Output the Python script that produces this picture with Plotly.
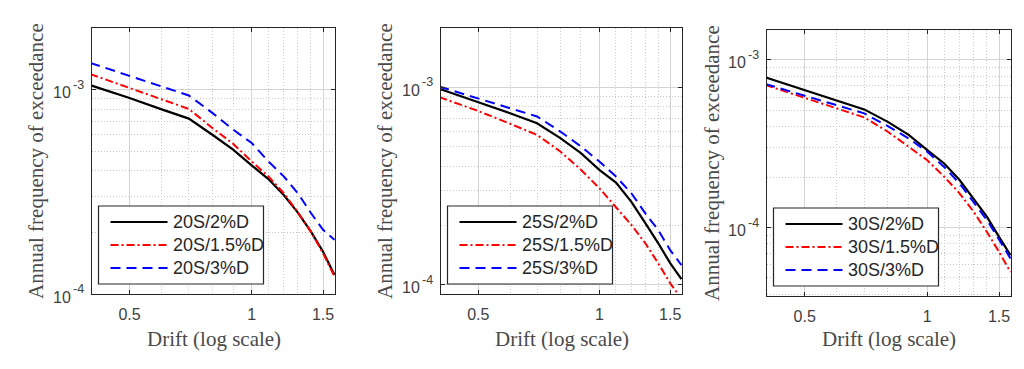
import math
import plotly.graph_objects as go

# ---------------- data ----------------
DRIFT = [0.4, 0.5, 0.6, 0.7, 0.8, 0.9, 1.0, 1.1, 1.2, 1.3, 1.4, 1.5, 1.6]

S20_2D = [1.05e-3, 9.1e-4, 8.0e-4, 7.21e-4, 6.01e-4, 5.08e-4, 4.26e-4, 3.65e-4, 3.05e-4, 2.50e-4, 2.02e-4, 1.61e-4, 1.24e-4]
S20_15D = [1.19e-3, 1.02e-3, 8.95e-4, 8.04e-4, 6.49e-4, 5.43e-4, 4.45e-4, 3.76e-4, 3.11e-4, 2.51e-4, 2.02e-4, 1.58e-4, 1.22e-4]
S20_3D = [1.35e-3, 1.17e-3, 1.035e-3, 9.35e-4, 7.69e-4, 6.37e-4, 5.48e-4, 4.45e-4, 3.76e-4, 3.11e-4, 2.49e-4, 2.06e-4, 1.84e-4]

S25_2D = [9.85e-4, 8.45e-4, 7.4e-4, 6.59e-4, 5.54e-4, 4.65e-4, 3.83e-4, 3.30e-4, 2.64e-4, 2.06e-4, 1.63e-4, 1.29e-4, 1.07e-4]
S25_15D = [8.94e-4, 7.6e-4, 6.55e-4, 5.75e-4, 4.74e-4, 3.83e-4, 3.09e-4, 2.49e-4, 2.02e-4, 1.63e-4, 1.29e-4, 1.02e-4, 8.5e-5]
S25_3D = [1.01e-3, 8.8e-4, 7.85e-4, 7.13e-4, 5.98e-4, 5.03e-4, 4.22e-4, 3.54e-4, 2.92e-4, 2.31e-4, 1.90e-4, 1.50e-4, 1.26e-4]

S30_2D = [7.88e-4, 6.6e-4, 5.73e-4, 5.07e-4, 4.27e-4, 3.57e-4, 2.90e-4, 2.41e-4, 1.92e-4, 1.49e-4, 1.16e-4, 8.79e-5, 6.83e-5]
S30_15D = [7.10e-4, 5.94e-4, 5.14e-4, 4.54e-4, 3.73e-4, 3.03e-4, 2.52e-4, 2.01e-4, 1.60e-4, 1.24e-4, 9.42e-5, 7.15e-5, 5.43e-5]
S30_3D = [7.19e-4, 6.12e-4, 5.37e-4, 4.80e-4, 4.03e-4, 3.40e-4, 2.83e-4, 2.30e-4, 1.83e-4, 1.42e-4, 1.11e-4, 8.47e-5, 6.53e-5]

PANEL_SERIES = [
    [("20S/2%D", S20_2D), ("20S/1.5%D", S20_15D), ("20S/3%D", S20_3D)],
    [("25S/2%D", S25_2D), ("25S/1.5%D", S25_15D), ("25S/3%D", S25_3D)],
    [("30S/2%D", S30_2D), ("30S/1.5%D", S30_15D), ("30S/3%D", S30_3D)],
]

X_TICKS = [0.5, 1.0, 1.5]
X_TICK_TEXT = ["0.5", "1", "1.5"]
X_MINOR = [0.4, 0.6, 0.7, 0.8, 0.9, 1.1, 1.2, 1.3, 1.4, 1.6]
Y_TICKS = [1e-4, 1e-3]
Y_TICK_BASE = ["10", "10"]
Y_TICK_EXP = ["-4", "-3"]
Y_MINOR = [4e-5, 5e-5, 6e-5, 7e-5, 8e-5, 9e-5,
           2e-4, 3e-4, 4e-4, 5e-4, 6e-4, 7e-4, 8e-4, 9e-4, 2e-3]

X_TITLE = "Drift (log scale)"
Y_TITLE = "Annual frequency of exceedance"

# ---------------- layout / style ----------------
W, H = 1024, 369
# plot boxes in pixels: (left, right, top, bottom)
BOXES = [(92, 335, 28, 294), (441, 682, 28, 294), (767, 1011, 30, 296)]
Y_RANGES = [(1e-4, 2.0e-3), (9.0e-5, 2.0e-3), (3.9e-5, 1.51e-3)]
X_RANGE = (0.404, 1.605)
YTITLE_X = [36, 385, 712]

STYLES = [
    dict(color="#000000", width=2.2, dash="solid"),
    dict(color="#ff0000", width=2.0, dash="8px,3px,2px,3px"),
    dict(color="#0000ff", width=2.0, dash="10px,6px"),
]

SANS = "Liberation Sans, Arial, sans-serif"
SERIF = "Liberation Serif, Times New Roman, serif"
TICK_COLOR = "#404040"


def px_x(p):
    return p / W


def px_y(p):
    return 1 - p / H


fig = go.Figure()
shapes = []
annotations = []
layout_axes = {}

for i, (box, series) in enumerate(zip(BOXES, PANEL_SERIES)):
    n = "" if i == 0 else str(i + 1)
    xa, ya = "x" + n, "y" + n
    for (name, vals), st in zip(series, STYLES):
        fig.add_trace(go.Scatter(
            x=DRIFT, y=vals, mode="lines", name=name, showlegend=False,
            xaxis=xa, yaxis=ya,
            line=dict(color=st["color"], width=st["width"], dash=st["dash"]),
        ))
    l, r, t, b = box
    common = dict(
        type="log", showline=True, linecolor="#262626", linewidth=1.3,
        mirror="ticks", ticks="inside", ticklen=4, tickcolor="#262626",
        showgrid=True, gridcolor="#d4d4d4", gridwidth=1,
        zeroline=False, automargin=False,
    )
    layout_axes["xaxis" + n] = dict(
        common,
        domain=[px_x(l), px_x(r)],
        anchor=ya,
        range=[math.log10(X_RANGE[0]), math.log10(X_RANGE[1])],
        tickmode="array", tickvals=X_TICKS, ticktext=X_TICK_TEXT,
        ticklabelstandoff=6,
        tickfont=dict(family=SANS, size=16, color=TICK_COLOR),
        minor=dict(tickmode="array", tickvals=X_MINOR, showgrid=True,
                   gridcolor="#c8c8c8", griddash="1px,2px", gridwidth=1,
                   ticks=""),
    )
    y0, y1 = Y_RANGES[i]
    layout_axes["yaxis" + n] = dict(
        common,
        domain=[px_y(b), px_y(t)],
        anchor=xa,
        range=[math.log10(y0), math.log10(y1)],
        tickmode="array", tickvals=Y_TICKS, showticklabels=False,
        minor=dict(tickmode="array", tickvals=Y_MINOR, showgrid=True,
                   gridcolor="#c8c8c8", griddash="1px,2px", gridwidth=1,
                   ticks=""),
    )

    # y tick labels as base + superscript exponent (MATLAB style)
    for tv, base, ex in zip(Y_TICKS, Y_TICK_BASE, Y_TICK_EXP):
        annotations.append(dict(
            text=base, xref="paper", yref=ya, x=px_x(l - 20), y=math.log10(tv),
            xanchor="right", yanchor="middle", yshift=-3, showarrow=False,
            font=dict(family=SANS, size=16, color=TICK_COLOR), borderpad=0,
        ))
        annotations.append(dict(
            text=ex, xref="paper", yref=ya, x=px_x(l - 20.5), y=math.log10(tv),
            xanchor="left", yanchor="middle", yshift=5, showarrow=False,
            font=dict(family=SANS, size=12.5, color=TICK_COLOR), borderpad=0,
        ))

    # axis titles
    annotations.append(dict(
        text=X_TITLE, xref="paper", yref="paper",
        x=px_x((l + r) / 2), y=px_y(339), xanchor="center", yanchor="middle",
        showarrow=False, font=dict(family=SERIF, size=21, color="#4a4a4a"),
    ))
    annotations.append(dict(
        text=Y_TITLE, xref="paper", yref="paper", textangle=-90,
        x=px_x(YTITLE_X[i]), y=px_y((t + b) / 2), xanchor="center", yanchor="middle",
        showarrow=False, font=dict(family=SERIF, size=21, color="#4a4a4a"),
    ))

    # legend box (drawn manually to match the long line samples)
    lx0, ly0 = l + 6.5, b - 88
    lx1, ly1 = lx0 + 165, ly0 + 78
    shapes.append(dict(type="rect", xref="paper", yref="paper",
                       x0=px_x(lx0), x1=px_x(lx1), y0=px_y(ly1), y1=px_y(ly0),
                       line=dict(color="#262626", width=1.2), fillcolor="white",
                       layer="above"))
    for k, ((name, _), st) in enumerate(zip(series, STYLES)):
        yy = ly0 + 16 + k * 23
        shapes.append(dict(type="line", xref="paper", yref="paper",
                           x0=px_x(lx0 + 12), x1=px_x(lx0 + 69),
                           y0=px_y(yy), y1=px_y(yy),
                           line=dict(color=st["color"], width=st["width"], dash=st["dash"]),
                           layer="above"))
        annotations.append(dict(
            text=name, xref="paper", yref="paper",
            x=px_x(lx0 + 72), y=px_y(yy), xanchor="left", yanchor="middle",
            showarrow=False, font=dict(family=SANS, size=18, color="#262626"),
        ))

fig.update_layout(
    width=W, height=H,
    margin=dict(l=0, r=0, t=0, b=0),
    paper_bgcolor="white", plot_bgcolor="white",
    shapes=shapes, annotations=annotations,
    **layout_axes,
)

fig.write_html(
    "out.html",
    config={"displayModeBar": False},
    post_script="document.body.style.margin='0';document.body.style.padding='0';",
)
